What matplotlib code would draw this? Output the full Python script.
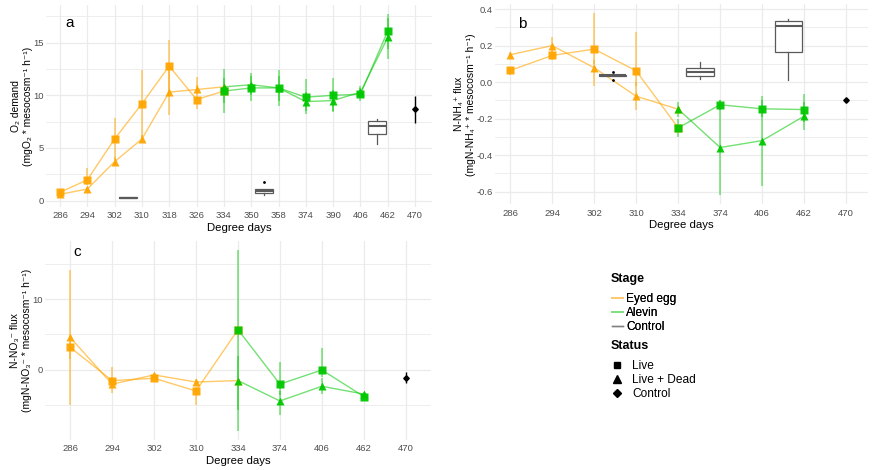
import matplotlib
matplotlib.use("Agg")
import matplotlib.pyplot as plt
from matplotlib.lines import Line2D
import numpy as np

plt.rcParams["font.family"] = ["Liberation Sans", "DejaVu Sans"]

ORANGE = "#FFA500"
GREEN = "#00C800"
GRID = "#EBEBEB"
TICK = "#4D4D4D"
BOX = "#5A5A5A"

# ---- panel a: O2 demand ----
a_days = ["286", "294", "302", "310", "318", "326", "334",
          "350", "358", "374", "390", "406", "462", "470"]
a_egg_days = ["286", "294", "302", "310", "318", "326", "334"]
a_egg_live = [0.79, 1.97, 5.85, 9.2, 12.77, 9.6, 10.4]
a_egg_live_lo = [0.55, 1.5, 3.9, 5.9, 10.3, 8.7, 10.4]
a_egg_live_hi = [1.0, 3.1, 7.85, 12.4, 15.25, 11.75, 10.4]
a_egg_dead = [0.6, 1.1, 3.7, 5.85, 10.3, 10.55, 10.8]
a_egg_dead_lo = [0.4, 0.9, 3.3, 5.5, 8.1, 10.1, 10.8]
a_egg_dead_hi = [0.8, 1.3, 4.1, 6.2, 12.5, 11.0, 10.8]
a_alv_days = ["334", "350", "358", "374", "390", "406", "462"]
a_alv_live = [10.4, 10.7, 10.7, 9.82, 10.0, 10.1, 16.1]
a_alv_live_lo = [8.3, 9.5, 9.0, 8.5, 8.5, 9.5, 14.4]
a_alv_live_hi = [12.5, 12.1, 12.4, 11.5, 11.6, 10.7, 17.7]
a_alv_dead = [10.8, 11.0, 10.7, 9.4, 9.5, 10.3, 15.5]
a_alv_dead_lo = [9.3, 10.0, 9.5, 8.2, 8.45, 9.9, 13.4]
a_alv_dead_hi = [11.6, 11.8, 11.8, 10.3, 10.5, 10.9, 17.3]
a_ctrl = (8.67, 7.37, 9.9)
# control boxes: (day, offset, q1, median, q3, whisker low, whisker high, outliers)
a_boxes = [
    ("302", 0.48, 0.27, 0.29, 0.31, 0.27, 0.31, []),
    ("350", 0.48, 0.70, 0.89, 1.08, 0.54, 1.14, [1.81]),
    ("406", 0.60, 6.32, 7.05, 7.53, 5.37, 7.75, []),
]

# ---- panel b: N-NH4 flux ----
b_days = ["286", "294", "302", "310", "334", "374", "406", "462", "470"]
b_egg_days = ["286", "294", "302", "310", "334"]
b_egg_live = [0.064, 0.146, 0.181, 0.062, -0.25]
b_egg_live_lo = [0.04, 0.12, 0.10, -0.02, -0.25]
b_egg_live_hi = [0.085, 0.17, 0.378, 0.272, -0.25]
b_egg_dead = [0.15, 0.2, 0.079, -0.077, -0.148]
b_egg_dead_lo = [0.135, 0.16, -0.02, -0.155, -0.148]
b_egg_dead_hi = [0.165, 0.245, 0.12, 0.0, -0.148]
b_alv_days = ["334", "374", "406", "462"]
b_alv_live = [-0.25, -0.124, -0.146, -0.15]
b_alv_live_lo = [-0.30, -0.15, -0.19, -0.22]
b_alv_live_hi = [-0.20, -0.10, -0.10, -0.064]
b_alv_dead = [-0.148, -0.358, -0.32, -0.186]
b_alv_dead_lo = [-0.19, -0.62, -0.57, -0.26]
b_alv_dead_hi = [-0.11, -0.10, -0.075, -0.11]
b_ctrl = (-0.097, -0.102, -0.092)
b_boxes = [
    ("302", 0.44, 0.035, 0.037, 0.040, 0.035, 0.040, [0.058, 0.011]),
    ("334", 0.52, 0.033, 0.058, 0.080, 0.016, 0.108, []),
    ("406", 0.62, 0.165, 0.305, 0.336, 0.013, 0.345, []),
]

# ---- panel c: N-NO3 flux ----
c_days = b_days
c_egg_days = ["286", "294", "302", "310", "334"]
c_egg_live = [3.19, -1.5, -1.17, -2.96, 5.68]
c_egg_live_lo = [1.5, -2.5, -1.5, -4.9, 5.68]
c_egg_live_hi = [4.0, 0.47, -0.9, -2.35, 5.68]
c_egg_dead = [4.6, -2.0, -0.7, -1.7, -1.5]
c_egg_dead_lo = [-5.0, -3.3, -1.0, -2.1, -1.5]
c_egg_dead_hi = [14.08, -1.0, -0.4, -1.3, -1.5]
c_alv_days = ["334", "374", "406", "462"]
c_alv_live = [5.68, -2.0, 0.0, -3.75]
c_alv_live_lo = [-5.6, -3.5, -1.0, -4.1]
c_alv_live_hi = [16.9, 1.17, 3.15, -3.4]
c_alv_dead = [-1.5, -4.37, -2.3, -3.4]
c_alv_dead_lo = [-8.6, -6.34, -3.4, -3.7]
c_alv_dead_hi = [2.0, -3.0, -1.2, -3.1]
c_ctrl = (-1.08, -1.9, -0.33)


def series(ax, cats, days, y, lo, hi, color, marker, ms, line_alpha):
    x = [cats.index(d) for d in days]
    ax.vlines(x, lo, hi, color=color, lw=1.1, alpha=line_alpha, zorder=2)
    ax.plot(x, y, color=color, lw=1.0, alpha=line_alpha, zorder=2)
    ax.plot(x, y, ls="none", marker=marker, ms=ms, color=color,
            mec="none", alpha=0.95, zorder=3)


def boxes(ax, cats, specs):
    stats, pos = [], []
    for day, off, q1, med, q3, lo, hi, out in specs:
        stats.append(dict(q1=q1, med=med, q3=q3, whislo=lo, whishi=hi,
                          fliers=out))
        pos.append(cats.index(day) + off)
    ax.bxp(stats, positions=pos, widths=0.65, showcaps=False, patch_artist=True,
           boxprops=dict(facecolor="white", edgecolor=BOX, lw=0.9),
           medianprops=dict(color=BOX, lw=1.5),
           whiskerprops=dict(color=BOX, lw=0.9),
           flierprops=dict(marker="o", ms=2, mfc="black", mec="none"),
           zorder=2)


def panel(ax, cats, xlim, ylabel, tag, tag_xy, ymajor, yminor):
    ax.set_xticks(range(len(cats)), cats)
    ax.set_xlim(*xlim)
    lo, hi = ax.dataLim.y0, ax.dataLim.y1
    pad = 0.05 * (hi - lo)
    ax.set_ylim(lo - pad, hi + pad)
    ax.set_yticks(ymajor)
    ax.set_yticks(yminor, minor=True)
    ax.grid(True, which="major", color=GRID, lw=0.9)
    ax.grid(True, which="minor", axis="y", color=GRID, lw=0.6)
    ax.set_axisbelow(True)
    for s in ax.spines.values():
        s.set_visible(False)
    ax.tick_params(which="both", length=0, labelsize=6.8, labelcolor=TICK)
    ax.tick_params(axis="x", pad=3)
    ax.tick_params(axis="y", pad=1.5)
    ax.set_xlabel("Degree days", fontsize=8.2, labelpad=2)
    ax.set_ylabel(ylabel, fontsize=7.4, labelpad=0.5, linespacing=1.25)
    ax.text(*tag_xy, tag, transform=ax.transAxes, fontsize=11,
            ha="center", va="center")


def draw(ax, cats, egg_days, alv_days, d, ctrl):
    series(ax, cats, egg_days, d[0], d[1], d[2], ORANGE, "s", 5.2, 0.6)
    series(ax, cats, egg_days, d[3], d[4], d[5], ORANGE, "^", 6.0, 0.6)
    series(ax, cats, alv_days, d[6], d[7], d[8], GREEN, "s", 5.2, 0.55)
    series(ax, cats, alv_days, d[9], d[10], d[11], GREEN, "^", 6.0, 0.55)
    xc = cats.index("470")
    ax.vlines([xc], [ctrl[1]], [ctrl[2]], color="black", lw=1.0, zorder=2)
    ax.plot([xc], [ctrl[0]], ls="none", marker="D", ms=2.8, color="black",
            zorder=3)


fig = plt.figure(figsize=(8.73, 4.70), dpi=100)
ax_a = fig.add_axes([0.0527, 0.5596, 0.4422, 0.4298])
ax_b = fig.add_axes([0.5670, 0.5649, 0.4273, 0.4266])
ax_c = fig.add_axes([0.0515, 0.0638, 0.4422, 0.4234])

draw(ax_a, a_days, a_egg_days, a_alv_days,
     [a_egg_live, a_egg_live_lo, a_egg_live_hi,
      a_egg_dead, a_egg_dead_lo, a_egg_dead_hi,
      a_alv_live, a_alv_live_lo, a_alv_live_hi,
      a_alv_dead, a_alv_dead_lo, a_alv_dead_hi], a_ctrl)
boxes(ax_a, a_days, a_boxes)
panel(ax_a, a_days, (-0.51, 13.62), "O₂ demand\n(mgO₂ * mesocosm⁻¹ h⁻¹)",
      "a", (0.06, 0.91), [0, 5, 10, 15], [2.5, 7.5, 12.5, 17.5])

draw(ax_b, b_days, b_egg_days, b_alv_days,
     [b_egg_live, b_egg_live_lo, b_egg_live_hi,
      b_egg_dead, b_egg_dead_lo, b_egg_dead_hi,
      b_alv_live, b_alv_live_lo, b_alv_live_hi,
      b_alv_dead, b_alv_dead_lo, b_alv_dead_hi], b_ctrl)
boxes(ax_b, b_days, b_boxes)
panel(ax_b, b_days, (-0.36, 8.52), "N-NH₄⁺ flux\n(mgN-NH₄⁺ * mesocosm⁻¹ h⁻¹)",
      "b", (0.072, 0.90), [-0.6, -0.4, -0.2, 0.0, 0.2, 0.4],
      [-0.5, -0.3, -0.1, 0.1, 0.3])
ax_b.set_yticklabels(["-0.6", "-0.4", "-0.2", "0.0", "0.2", "0.4"])

draw(ax_c, c_days, c_egg_days, c_alv_days,
     [c_egg_live, c_egg_live_lo, c_egg_live_hi,
      c_egg_dead, c_egg_dead_lo, c_egg_dead_hi,
      c_alv_live, c_alv_live_lo, c_alv_live_hi,
      c_alv_dead, c_alv_dead_lo, c_alv_dead_hi], c_ctrl)
panel(ax_c, c_days, (-0.6, 8.6), "N-NO₃⁻ flux\n(mgN-NO₃⁻ * mesocosm⁻¹ h⁻¹)",
      "c", (0.083, 0.945), [0, 10], [-5, 5, 15])

# legends: titles placed separately so the gap below them can be set
stage = [Line2D([], [], color="#FFC870", lw=1.3),
         Line2D([], [], color="#80E080", lw=1.3),
         Line2D([], [], color="#808080", lw=1.0)]
status = [Line2D([], [], ls="none", marker="s", ms=5, color="black"),
          Line2D([], [], ls="none", marker="^", ms=6, color="black"),
          Line2D([], [], ls="none", marker="D", ms=3.6, color="black")]
common = dict(loc="upper left", frameon=False, fontsize=8.6,
              borderpad=0, labelspacing=0.18, borderaxespad=0)
fig.text(611 / 873, 1 - 279 / 470, "Stage", fontsize=9, weight="bold",
         va="center", ha="left")
leg1 = fig.legend(stage, ["Eyed egg", "Alevin", "Control"],
                  bbox_to_anchor=(612 / 873, 1 - 293 / 470),
                  handlelength=0.9, handletextpad=0.3, **common)
fig.text(611 / 873, 1 - 346 / 470, "Status", fontsize=9, weight="bold",
         va="center", ha="left")
fig.legend(status, ["Live", "Live + Dead", "Control"],
           bbox_to_anchor=(612 / 873, 1 - 360 / 470),
           handlelength=0.8, handletextpad=0.9, **common)
fig.add_artist(leg1)

fig.savefig("out.png", dpi=100)
